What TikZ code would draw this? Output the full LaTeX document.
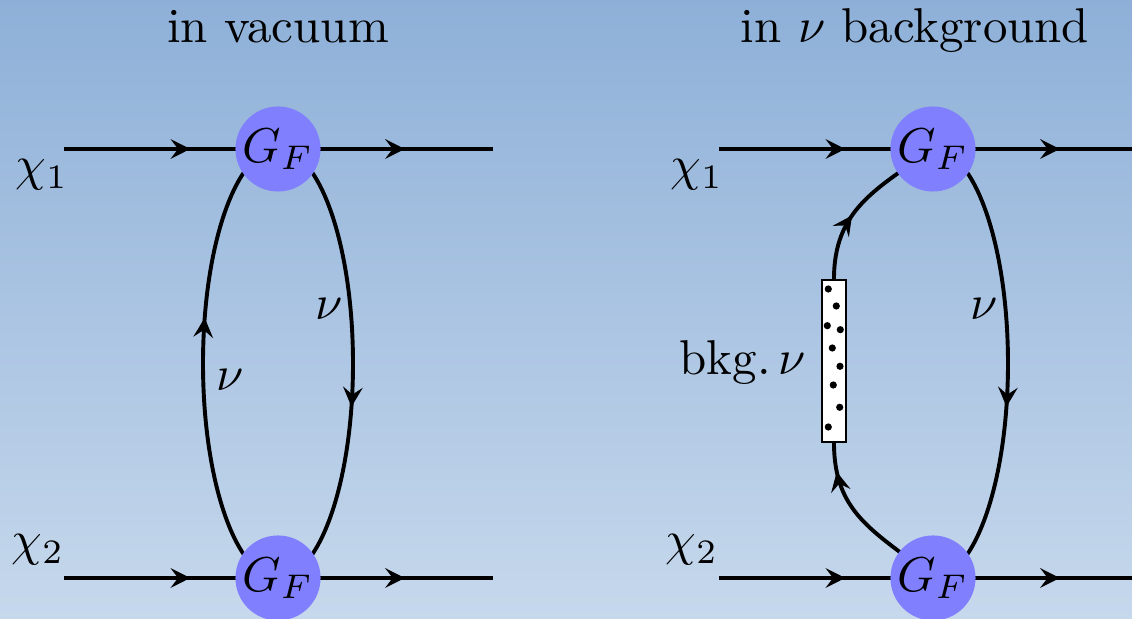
\documentclass[tikz,border=0pt]{standalone}
\usetikzlibrary{arrows.meta,decorations.markings}
\definecolor{bgtop}{RGB}{142,176,216}
\definecolor{bgbot}{RGB}{198,216,236}
\definecolor{vtxblue}{RGB}{128,128,255}
\pgfdeclarelayer{back}
\pgfdeclarelayer{lines}
\pgfsetlayers{back,lines,main}
\tikzset{
  prop/.style={line width=0.8pt},
  vertexdot/.style={circle, fill=vtxblue, inner sep=0pt, minimum size=17.4pt},
  arrowat/.style={postaction={decorate}, decoration={markings, mark=at position #1 with {\arrow{Stealth[length=4pt,width=4pt,inset=1.5pt]}}}},
  bkgbox/.style={draw, fill=white, line width=0.4pt, inner sep=0pt, minimum width=4.9pt, minimum height=33.1pt},
  lbl/.style={inner sep=0pt},
  bkgdot/.style={fill=black},
}
\begin{document}
\begin{tikzpicture}[x=0.2045pt,y=0.2045pt]
\useasboundingbox (0,0) rectangle (1132,619);
\begin{pgfonlayer}{back}
\shade[top color=bgtop,bottom color=bgbot] (0,0) rectangle (1132,619);
\end{pgfonlayer}
% titles
\node[anchor=base] (t1) at (278,576) {in vacuum};
\node[anchor=base] (t2) at (915,576) {in $\nu$ background};
% ---------- left panel ----------
\node[vertexdot] (V1) at (278,470) {$G_F$};
\node[vertexdot] (V2) at (278,41) {$G_F$};
\coordinate (a1) at (64,470);
\coordinate (b1) at (493,470);
\coordinate (a2) at (64,41);
\coordinate (b2) at (493,41);
\node[lbl] (x1) at (42,444) {$\chi_1$};
\node[lbl] (x2) at (38,69) {$\chi_2$};
\node[lbl] (n1) at (230.5,239) {$\nu$};
\node[lbl] (n2) at (329.5,310.5) {$\nu$};
% ---------- right panel ----------
\node[vertexdot] (V3) at (933,470) {$G_F$};
\node[vertexdot] (V4) at (933,41) {$G_F$};
\coordinate (a3) at (719,470);
\coordinate (b3) at (1148,470);
\coordinate (a4) at (719,41);
\coordinate (b4) at (1148,41);
\node[lbl] (x3) at (697,444) {$\chi_1$};
\node[lbl] (x4) at (692,69) {$\chi_2$};
\node[lbl] (n3) at (984.5,310.5) {$\nu$};
\node[lbl,anchor=base east] (bk) at (807,244) {bkg.\,$\nu$};
\node[bkgbox] (box) at (834,258) {};
\foreach \p in {(828.3,330),(836.3,313),(827.3,293.3),(840.3,289.3),(832.3,271),(840,252.7),(833.3,234),(839.7,211.7),(828.3,192)}
  \fill[bkgdot] \p circle[radius=3.6];
\begin{pgfonlayer}{lines}
\draw[prop,arrowat=0.59] (a1) -- (V1.center);
\draw[prop,arrowat=0.59] (V1.center) -- (b1);
\draw[prop,arrowat=0.59] (a2) -- (V2.center);
\draw[prop,arrowat=0.59] (V2.center) -- (b2);
\draw[prop,arrowat=0.595] (V2.center) arc[start angle=270,end angle=90,x radius=75,y radius=214.5];
\draw[prop,arrowat=0.59] (V1.center) arc[start angle=90,end angle=-90,x radius=75,y radius=214.5];
\draw[prop,arrowat=0.59] (a3) -- (V3.center);
\draw[prop,arrowat=0.59] (V3.center) -- (b3);
\draw[prop,arrowat=0.59] (a4) -- (V4.center);
\draw[prop,arrowat=0.59] (V4.center) -- (b4);
\draw[prop,arrowat=0.59] (V3.center) arc[start angle=90,end angle=-90,x radius=75,y radius=214.5];
\draw[prop,arrowat=0.39] (box.north) .. controls (834,409) and (875.7,429.8) .. (V3.center);
\draw[prop,arrowat=0.835] (V4.center) .. controls (879.4,86) and (834,102) .. (box.south);
\end{pgfonlayer}
\end{tikzpicture}
\end{document}
